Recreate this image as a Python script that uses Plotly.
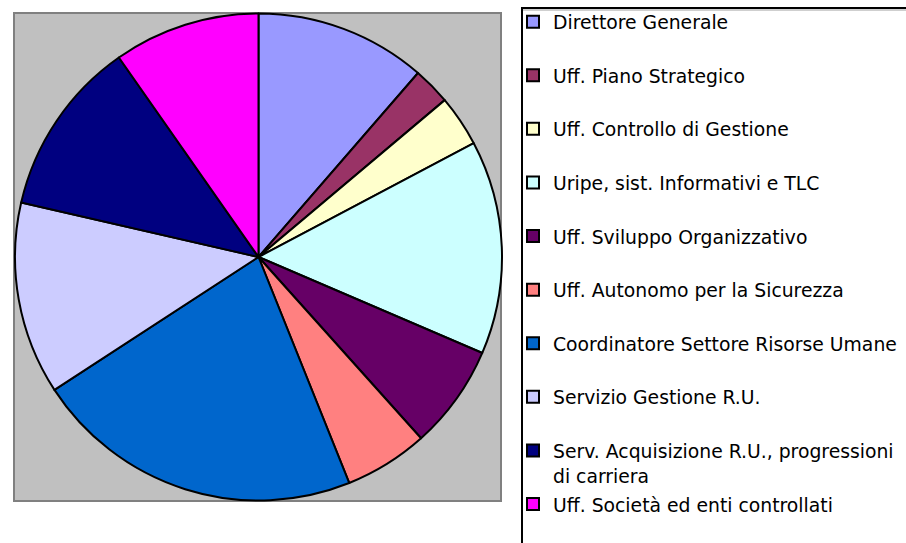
import plotly.graph_objects as go

# ---- data ----
labels = [
    "Direttore Generale",
    "Uff. Piano Strategico",
    "Uff. Controllo di Gestione",
    "Uripe, sist. Informativi e TLC",
    "Uff. Sviluppo Organizzativo",
    "Uff. Autonomo per la Sicurezza",
    "Coordinatore Settore Risorse Umane",
    "Servizio Gestione R.U.",
    "Serv. Acquisizione R.U., progressioni<br>di carriera",
    "Uff. Società ed enti controllati",
]
values = [11.37, 2.49, 3.40, 14.19, 6.92, 5.56, 21.89, 12.78, 11.69, 9.72]
colors = ["#9999FF", "#993366", "#FFFFCC", "#CCFFFF", "#660066",
          "#FF8080", "#0066CC", "#CCCCFF", "#000080", "#FF00FF"]

W, H = 906, 543
TXT = 18.8


def px_x(x):
    return x / W


def px_y(y):
    return 1 - y / H


def legend_name(lbl, pad):
    lines = lbl.split("<br>")
    while pad and len(lines) < 2:
        lines.append("\u00a0")
    return "<br>".join(f"<span style='font-size:{TXT}px'>{ln}</span>" for ln in lines)


legend_labels = [legend_name(l, i < len(labels) - 1) for i, l in enumerate(labels)]

cx, cy, r = 258.5, 257, 243.5

fig = go.Figure(go.Pie(
    labels=legend_labels,
    values=values,
    sort=False,
    direction="clockwise",
    rotation=0,
    textinfo="none",
    marker=dict(colors=colors, line=dict(color="#000000", width=2)),
    domain=dict(x=[px_x(cx - r), px_x(cx + r)], y=[px_y(cy + r), px_y(cy - r)]),
    hoverinfo="percent",
))

fig.update_layout(
    width=W, height=H,
    margin=dict(l=0, r=0, t=0, b=0),
    paper_bgcolor="white",
    showlegend=True,
    legend=dict(
        x=px_x(513), xanchor="left",
        y=px_y(2.5), yanchor="top",
        valign="top",
        font=dict(family="DejaVu Sans", size=19.46, color="#000000"),
        bgcolor="rgba(0,0,0,0)",
        borderwidth=0,
        traceorder="normal",
    ),
    shapes=[
        dict(type="rect", xref="paper", yref="paper",
             x0=px_x(14), x1=px_x(501), y0=px_y(501), y1=px_y(13),
             fillcolor="#C0C0C0", line=dict(color="#808080", width=2), layer="below"),
        dict(type="line", xref="paper", yref="paper",
             x0=px_x(523), x1=px_x(930), y0=px_y(10), y1=px_y(10),
             line=dict(color="#A0A0A0", width=1), layer="below"),
        dict(type="rect", xref="paper", yref="paper",
             x0=px_x(522), x1=px_x(930), y0=px_y(570), y1=px_y(8),
             fillcolor="rgba(0,0,0,0)", line=dict(color="#000000", width=2), layer="below"),
    ],
)

fig.write_html(
    "out.html",
    config={"displayModeBar": False},
    post_script="document.body.style.margin='0';document.body.style.overflow='hidden';",
)
